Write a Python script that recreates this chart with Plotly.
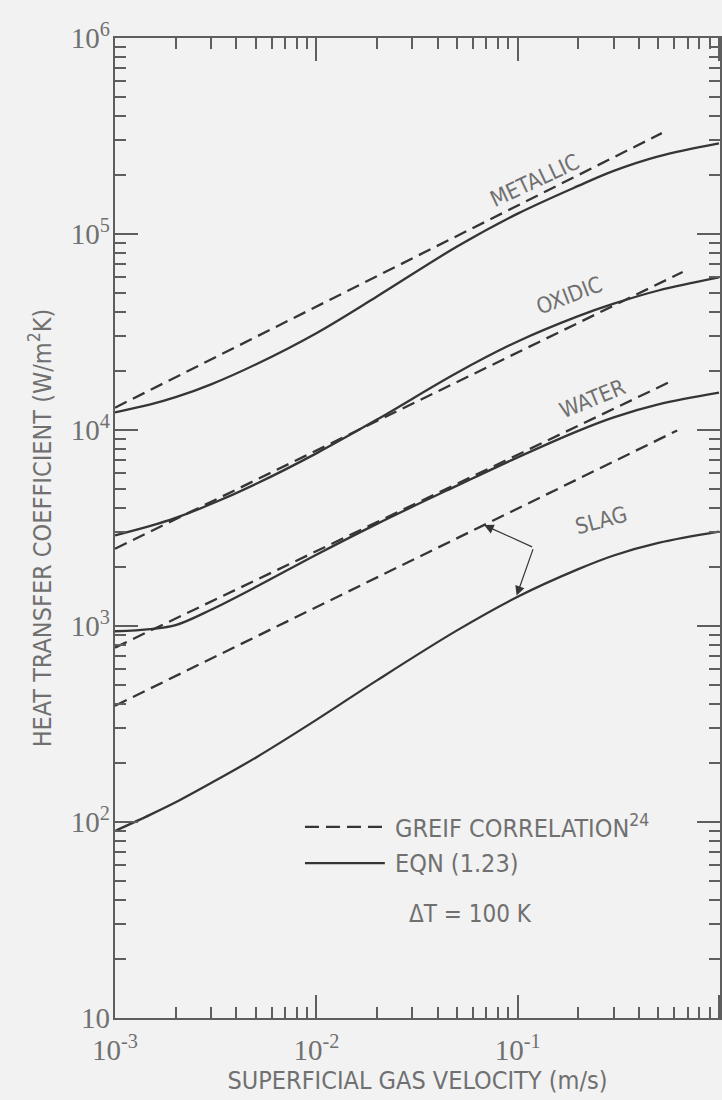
import plotly.graph_objects as go

# ---------------- data ----------------
U = [0.001, 0.0015, 0.002, 0.003, 0.005, 0.01, 0.02, 0.05, 0.1, 0.2, 0.3, 0.5, 1.0]

metallic_eqn = [12300, 13500, 14700, 17100, 21600, 31200, 48000, 86300, 127000, 176000, 210000, 249000, 290000]
oxidic_eqn = [2900, 3240, 3560, 4190, 5300, 7600, 11300, 19600, 28300, 38100, 44100, 51500, 60000]
water_eqn = [940, 965, 1010, 1210, 1580, 2310, 3320, 5200, 7250, 9900, 11600, 13500, 15500]
slag_eqn = [90, 109, 126, 158, 213, 332, 528, 950, 1410, 1950, 2290, 2655, 3030]

metallic_greif_u = [0.001, 0.52]
metallic_greif = [13000, 327000]
oxidic_greif_u = [0.001, 0.66]
oxidic_greif = [2480, 64000]
water_greif_u = [0.001, 0.59]
water_greif = [776, 17900]
slag_greif_u = [0.001, 0.62]
slag_greif = [392, 9950]

x_tickvals = [0.001, 0.01, 0.1, 1]
x_ticktext = ["10<sup>-3</sup>", "10<sup>-2</sup>", "10<sup>-1</sup>", "10<sup>0</sup>"]
y_tickvals = [10, 100, 1000, 10000, 100000, 1000000]
y_ticktext = ["10", "10<sup>2</sup>", "10<sup>3</sup>", "10<sup>4</sup>", "10<sup>5</sup>", "10<sup>6</sup>"]
minor_digits = [2, 3, 4, 5, 6, 7, 8, 9]

legend_greif = "GREIF CORRELATION<sup>24</sup>"
legend_eqn = "EQN (1.23)"
note_text = "\u0394T = 100 K"

# ---------------- styles ----------------
LINE = "#353535"
TEXT = "#707070"
AXIS = "#5e5e5e"
BG = "#f2f2f2"
SANS = "Liberation Sans Narrow, DejaVu Sans Condensed, Arial Narrow, sans-serif"
SERIF = "Liberation Serif, DejaVu Serif, serif"
DASH = "13px,7px"

X_RANGE = [-3, 0.005]
Y_RANGE = [1, 6]

fig = go.Figure()

# Greif correlation (dashed) on the overlaid subplot carrying the decade ticks
greif = [(metallic_greif_u, metallic_greif), (oxidic_greif_u, oxidic_greif),
         (water_greif_u, water_greif), (slag_greif_u, slag_greif)]
for u, h in greif:
    fig.add_trace(go.Scatter(
        x=u, y=h, mode="lines", line=dict(color=LINE, width=2.3, dash=DASH),
        name="GREIF CORRELATION", showlegend=False, hoverinfo="skip",
        xaxis="x2", yaxis="y2"))

# Eqn (1.23) (solid)
for h in [metallic_eqn, oxidic_eqn, water_eqn, slag_eqn]:
    fig.add_trace(go.Scatter(
        x=U, y=h, mode="lines", line=dict(color=LINE, width=2.3, shape="spline", smoothing=1.0),
        name="EQN (1.23)", showlegend=False, hoverinfo="skip"))

x_minor = [d * 10.0 ** e for e in (-3, -2, -1) for d in minor_digits]
y_minor = [d * 10.0 ** e for e in (1, 2, 3, 4, 5) for d in minor_digits]

minor_axis = dict(
    type="log", showgrid=False, zeroline=False,
    showline=True, linecolor=AXIS, linewidth=1.6, mirror="ticks",
    tickmode="array", ticks="inside", ticklen=11, tickwidth=1.6, tickcolor=AXIS,
    showticklabels=False, automargin=False,
)
major_axis = dict(
    type="log", showgrid=False, zeroline=False, showline=False, mirror="ticks",
    tickmode="array", ticks="inside", ticklen=23, tickwidth=1.6, tickcolor=AXIS,
    tickfont=dict(family=SERIF, size=29, color=TEXT), automargin=False,
)

fig.update_layout(
    xaxis=dict(**minor_axis, range=X_RANGE, tickvals=x_minor),
    yaxis=dict(**minor_axis, range=Y_RANGE, tickvals=y_minor),
    xaxis2=dict(**major_axis, range=X_RANGE, overlaying="x", anchor="y", side="bottom",
                tickvals=x_tickvals, ticktext=x_ticktext, ticklabelstandoff=12,
                title=dict(text="SUPERFICIAL GAS VELOCITY (m/s)", standoff=4,
                           font=dict(family=SANS, size=25, color=TEXT))),
    yaxis2=dict(**major_axis, range=Y_RANGE, overlaying="y", anchor="x", side="left",
                tickvals=y_tickvals, ticktext=y_ticktext, ticklabelstandoff=4,
                title=dict(text="HEAT TRANSFER COEFFICIENT (W/m<sup>2</sup>K)", standoff=12,
                           font=dict(family=SANS, size=25, color=TEXT))),
)

labels = [
    ("METALLIC", -0.916, 5.275, -25),
    ("OXIDIC", -0.744, 4.687, -21),
    ("WATER", -0.626, 4.161, -22),
    ("SLAG", -0.586, 3.538, -15),
]
for txt, lx, ly, ang in labels:
    fig.add_annotation(x=lx, y=ly, xref="x", yref="y", text=txt, showarrow=False,
                       textangle=ang, font=dict(family=SANS, size=22, color=TEXT))

# SLAG leader lines
fig.add_shape(type="line", xref="x", yref="y", x0=-0.744, y0=3.467, x1=-0.921, y1=3.400,
              line=dict(color=LINE, width=1.2))
for tx, ty in [(-1.167, 3.515), (-1.005, 3.155)]:
    fig.add_annotation(x=tx, y=ty, xref="x", yref="y", ax=-0.921, ay=3.400,
                       axref="x", ayref="y", text="", showarrow=True,
                       arrowhead=2, arrowsize=1.6, arrowwidth=1.2, arrowcolor=LINE)

# legend (drawn as keyed samples + text)
fig.add_shape(type="line", xref="paper", yref="paper", x0=0.314, x1=0.446, y0=0.195, y1=0.195,
              line=dict(color=LINE, width=2.4, dash="14px,7px"))
fig.add_shape(type="line", xref="paper", yref="paper", x0=0.314, x1=0.446, y0=0.158, y1=0.158,
              line=dict(color=LINE, width=2.4))
fig.add_annotation(x=0.459, y=0.195, xref="paper", yref="paper", text=legend_greif,
                   showarrow=False, xanchor="left", yanchor="middle",
                   font=dict(family=SANS, size=25, color=TEXT))
fig.add_annotation(x=0.459, y=0.158, xref="paper", yref="paper", text=legend_eqn,
                   showarrow=False, xanchor="left", yanchor="middle",
                   font=dict(family=SANS, size=25, color=TEXT))

fig.add_annotation(x=0.588, y=0.09, xref="paper", yref="paper", text=note_text,
                   showarrow=False, font=dict(family=SANS, size=24, color=TEXT))

fig.update_layout(
    width=722, height=1100,
    margin=dict(l=115, r=2, t=38, b=82),
    paper_bgcolor=BG, plot_bgcolor=BG,
    showlegend=False,
)

fig.write_html("out.html")
